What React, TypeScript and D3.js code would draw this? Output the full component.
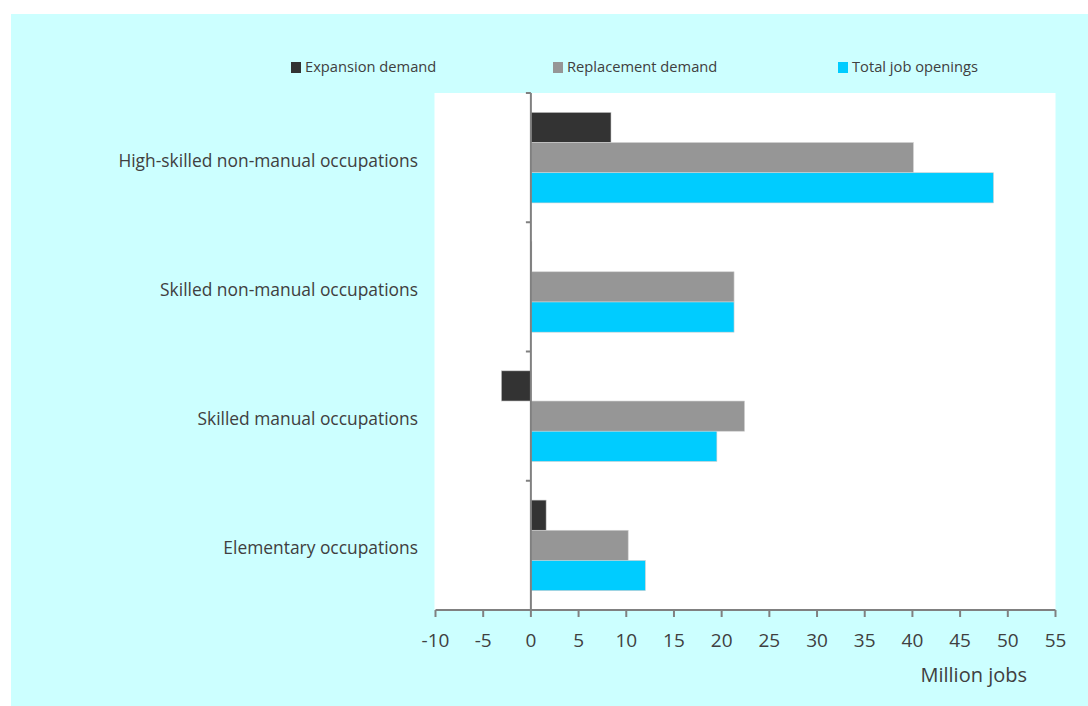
import React from "react";
import * as d3 from "d3";

const categories = [
  "High-skilled non-manual occupations",
  "Skilled non-manual occupations",
  "Skilled manual occupations",
  "Elementary occupations",
];
const seriesNames = ["Expansion demand", "Replacement demand", "Total job openings"];
const expansionDemand = [8.4, 0.1, -3.1, 1.6];
const replacementDemand = [40.1, 21.3, 22.4, 10.2];
const totalJobOpenings = [48.5, 21.3, 19.5, 12.0];
const xTicks = [-10, -5, 0, 5, 10, 15, 20, 25, 30, 35, 40, 45, 50, 55];
const colors = ["#333333", "#969696", "#00ccff"];

const W = 1088;
const H = 706;
const FONT = "'Open Sans', sans-serif";
const TEXT = "#404040";

export default function App() {
  const plot = { left: 435.5, right: 1055.5, top: 93, bottom: 610 };
  const x = d3.scaleLinear().domain([-10, 55]).range([plot.left, plot.right]);
  const y = d3.scaleBand<string>().domain(categories).range([plot.top, plot.bottom]).padding(0);
  const inner = d3
    .scaleBand<string>()
    .domain(seriesNames)
    .range([0, y.bandwidth()])
    .paddingInner(0)
    .paddingOuter(0.64);
  const series = [expansionDemand, replacementDemand, totalJobOpenings];
  const legendX = [291, 553, 838];
  const x0 = x(0);

  return (
    <svg
      width={W}
      height={H}
      style={{ position: "absolute", left: 0, top: 0, display: "block" }}
      fontFamily={FONT}
    >
      <rect x={0} y={0} width={W} height={H} fill="#ffffff" />
      <rect x={11} y={14} width={W - 11} height={H - 14} fill="#ccffff" />
      <rect
        x={plot.left - 1}
        y={plot.top}
        width={plot.right - plot.left + 1}
        height={plot.bottom - plot.top}
        fill="#ffffff"
      />

      {/* legend */}
      {seriesNames.map((s, i) => (
        <g key={s}>
          <rect x={legendX[i]} y={62} width={10} height={11} fill={colors[i]} />
          <text x={legendX[i] + 14} y={72} fontSize={14.7} fill={TEXT}>
            {s}
          </text>
        </g>
      ))}

      {/* bars */}
      {categories.map((c, ci) => (
        <g key={c} transform={`translate(0,${y(c)})`}>
          {series.map((vals, si) => {
            const v = vals[ci];
            const bx = Math.min(x(v), x0);
            const bw = Math.abs(x(v) - x0);
            return (
              <rect
                key={si}
                x={bx}
                y={inner(seriesNames[si])}
                width={bw}
                height={inner.bandwidth()}
                fill={colors[si]}
                stroke="#d0d0d0"
                strokeWidth={0.6}
              />
            );
          })}
        </g>
      ))}

      {/* vertical zero axis */}
      <line x1={x0} x2={x0} y1={plot.top} y2={plot.bottom} stroke="#808080" strokeWidth={2} />
      {d3.range(categories.length + 1).map((i) => {
        const yy = plot.top + i * y.step();
        return <line key={i} x1={x0 - 5} x2={x0} y1={yy} y2={yy} stroke="#808080" strokeWidth={2} />;
      })}

      {/* category labels */}
      {categories.map((c) => (
        <text
          key={c}
          x={418}
          y={(y(c) ?? 0) + y.bandwidth() / 2 + 9}
          textAnchor="end"
          fontSize={17.4}
          fill={TEXT}
        >
          {c}
        </text>
      ))}

      {/* x axis */}
      <line x1={plot.left} x2={plot.right} y1={plot.bottom} y2={plot.bottom} stroke="#808080" strokeWidth={2} />
      {xTicks.map((t) => (
        <g key={t}>
          <line x1={x(t)} x2={x(t)} y1={plot.bottom} y2={plot.bottom + 7} stroke="#808080" strokeWidth={2} />
          <text x={x(t)} y={647} textAnchor="middle" fontSize={19} fill={TEXT}>
            {t}
          </text>
        </g>
      ))}
      <text x={1027} y={682} textAnchor="end" fontSize={20} fill={TEXT}>
        Million jobs
      </text>
    </svg>
  );
}
